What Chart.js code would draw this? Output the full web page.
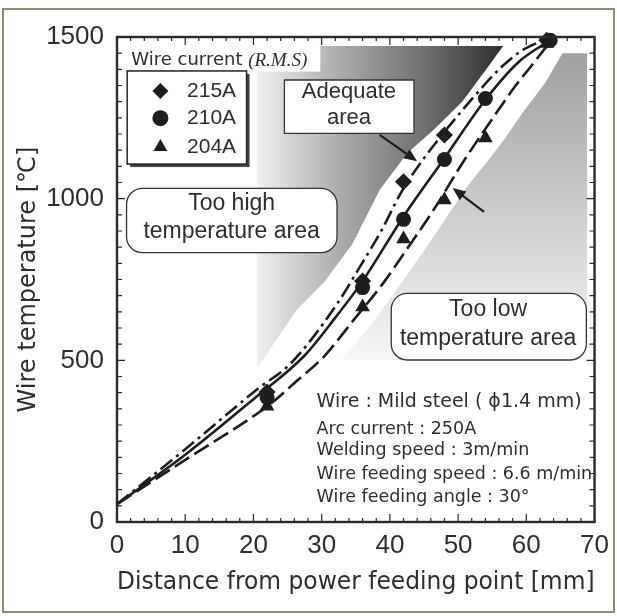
<!DOCTYPE html>
<html>
<head>
<meta charset="utf-8">
<script src="https://cdn.jsdelivr.net/npm/chart.js@4.4.1/dist/chart.umd.min.js"></script>
<style>
  html, body { margin: 0; padding: 0; background: #fff; }
  canvas { display: block; }
</style>
</head>
<body>
<canvas id="chart" width="617" height="616"></canvas>
<script>
// axis ticks
const xTickValues = [0, 10, 20, 30, 40, 50, 60, 70];
const yTickValues = [0, 500, 1000, 1500];
const currentLabels = ['215A', '210A', '204A'];

// measured wire temperatures [distance mm, temperature C]
const points215A = [[22, 402], [36, 745], [42, 1052], [48, 1197], [63, 1490]];
const points210A = [[22, 385], [36, 725], [42, 936], [48, 1121], [54, 1310], [63.5, 1490]];
const points204A = [[22, 358], [36, 665], [42, 875], [48, 996], [54, 1188], [63, 1480]];

// fitted curves
const curve215A = [[0, 55], [10, 225], [20.7, 413], [25.5, 491], [32.3, 676], [35.6, 789], [38.8, 903],
                   [41.7, 1021], [44.8, 1119], [52.1, 1310], [56.4, 1408], [59.5, 1460], [62.5, 1490]];
const curve210A = [[0, 55], [10, 208], [20, 380], [27.5, 515], [32, 632], [36, 745], [42, 945],
                   [48, 1125], [54, 1306], [59, 1425], [63.5, 1490]];
const curve204A = [[0, 55], [10, 192], [22.6, 367], [26.5, 439], [30.3, 511], [34.7, 625], [39, 738],
                   [42.4, 841], [46.7, 975], [50.6, 1109], [55.9, 1274], [58.3, 1346], [61.2, 1423], [63.5, 1485]];

// shaded zones (outline in data units)
const tooHighZone = [[20.5, 1472], [56.6, 1472], [54.4, 1408], [50.6, 1300], [46.5, 1215], [42.5, 1140],
                     [38.5, 1027], [34.5, 860], [30.5, 745], [26.3, 655], [20.5, 475]];
const tooLowZone = [[65.3, 1450], [68.9, 1450], [68.9, 500], [32.9, 500], [36.5, 590], [40, 690],
                    [45.7, 860], [51.4, 1040], [54.5, 1120], [57, 1190], [59.4, 1264], [62.7, 1356]];

const infoLines = ['Wire : Mild steel ( \u03d51.4 mm)', 'Arc current : 250A', 'Welding speed : 3m/min',
                   'Wire feeding speed : 6.6 m/min', 'Wire feeding angle : 30\u00b0'];

const INK = '#1e1e1e';
const TXT = '#2e2e2e';
const SANS = '"Liberation Sans", Arial, sans-serif';
const NARROW = '"Liberation Sans Narrow", "Arial Narrow", "Liberation Sans", sans-serif';
const WIDE = '"DejaVu Sans", sans-serif';

const toXY = arr => arr.map(([x, y]) => ({x, y}));

function curveSet(label, pts, dash) {
    return {
        label: label, data: toXY(pts), order: 2,
        borderColor: INK, borderWidth: 2.6, borderDash: dash,
        pointRadius: 0, cubicInterpolationMode: 'monotone', fill: false
    };
}
function markerSet(label, pts, style, r) {
    return {
        label: label, data: toXY(pts), order: 1, showLine: false, clip: false,
        pointStyle: style, pointRadius: r, pointBackgroundColor: INK, pointBorderColor: INK, pointBorderWidth: 0
    };
}

function px(chart, x) { return chart.scales.x.getPixelForValue(x); }
function py(chart, y) { return chart.scales.y.getPixelForValue(y); }

function tracePoly(chart, ctx, pts) {
    ctx.beginPath();
    pts.forEach(([x, y], i) => {
        if (i === 0) ctx.moveTo(px(chart, x), py(chart, y));
        else ctx.lineTo(px(chart, x), py(chart, y));
    });
    ctx.closePath();
}

function roundRect(ctx, x0, y0, x1, y1, r) {
    ctx.beginPath();
    ctx.moveTo(x0 + r, y0);
    ctx.arcTo(x1, y0, x1, y1, r);
    ctx.arcTo(x1, y1, x0, y1, r);
    ctx.arcTo(x0, y1, x0, y0, r);
    ctx.arcTo(x0, y0, x1, y0, r);
    ctx.closePath();
}

function box(chart, ctx, b, radius) {
    const x0 = px(chart, b[0]), x1 = px(chart, b[1]);
    const y0 = py(chart, b[2]), y1 = py(chart, b[3]);
    ctx.fillStyle = '#fff';
    ctx.strokeStyle = '#333';
    ctx.lineWidth = 1.3;
    if (radius) roundRect(ctx, x0, y0, x1, y1, radius);
    else { ctx.beginPath(); ctx.rect(x0, y0, x1 - x0, y1 - y0); }
    ctx.fill();
    ctx.stroke();
}

function arrow(chart, ctx, from, to) {
    const x0 = px(chart, from[0]), y0 = py(chart, from[1]);
    const x1 = px(chart, to[0]), y1 = py(chart, to[1]);
    const a = Math.atan2(y1 - y0, x1 - x0);
    const L = 13, W = 5.5;
    ctx.strokeStyle = INK;
    ctx.fillStyle = INK;
    ctx.lineWidth = 2.2;
    ctx.beginPath();
    ctx.moveTo(x0, y0);
    ctx.lineTo(x1 - Math.cos(a) * L * 0.8, y1 - Math.sin(a) * L * 0.8);
    ctx.stroke();
    ctx.beginPath();
    ctx.moveTo(x1, y1);
    ctx.lineTo(x1 - Math.cos(a) * L - Math.sin(a) * W, y1 - Math.sin(a) * L + Math.cos(a) * W);
    ctx.lineTo(x1 - Math.cos(a) * L + Math.sin(a) * W, y1 - Math.sin(a) * L - Math.cos(a) * W);
    ctx.closePath();
    ctx.fill();
}

const pagePlugin = {
    id: 'page',
    beforeDraw(chart) {
        const ctx = chart.ctx;
        ctx.save();
        ctx.fillStyle = '#fff';
        ctx.fillRect(0, 0, chart.width, chart.height);
        ctx.strokeStyle = '#8f8f6c';
        ctx.lineWidth = 2;
        ctx.strokeRect(3, 9, 611, 603);
        ctx.restore();
    }
};

const zonePlugin = {
    id: 'zones',
    beforeDatasetsDraw(chart) {
        const ctx = chart.ctx;
        ctx.save();
        const g1 = ctx.createLinearGradient(px(chart, 20.5), 0, px(chart, 56.6), 0);
        g1.addColorStop(0, '#f0f0f0');
        g1.addColorStop(0.35, '#a9a9a9');
        g1.addColorStop(0.7, '#6c6c6c');
        g1.addColorStop(1, '#2e2e2e');
        tracePoly(chart, ctx, tooHighZone);
        ctx.fillStyle = g1;
        ctx.fill();

        const g2 = ctx.createLinearGradient(0, py(chart, 1450), 0, py(chart, 500));
        g2.addColorStop(0, '#a0a0a0');
        g2.addColorStop(1, '#f7f7f7');
        tracePoly(chart, ctx, tooLowZone);
        ctx.fillStyle = g2;
        ctx.fill();

        // white backing behind the legend caption
        ctx.fillStyle = '#fff';
        ctx.fillRect(px(chart, 0) + 2, py(chart, 1472), px(chart, 29.8) - px(chart, 0) - 2, py(chart, 1393) - py(chart, 1472));
        ctx.restore();
    }
};

const notesPlugin = {
    id: 'notes',
    afterDatasetsDraw(chart) {
        const ctx = chart.ctx;
        ctx.save();
        ctx.textBaseline = 'middle';

        // legend
        const lx0 = px(chart, 1.49), lx1 = px(chart, 18.99), ly0 = py(chart, 1395), ly1 = py(chart, 1107);
        ctx.fillStyle = '#444';
        ctx.fillRect(lx0 + 3, ly0 + 3, lx1 - lx0, ly1 - ly0);
        ctx.fillStyle = '#fff';
        ctx.fillRect(lx0, ly0, lx1 - lx0, ly1 - ly0);
        ctx.strokeStyle = '#222';
        ctx.lineWidth = 1.5;
        ctx.strokeRect(lx0, ly0, lx1 - lx0, ly1 - ly0);

        ctx.fillStyle = TXT;
        ctx.textAlign = 'left';
        ctx.font = '18px ' + WIDE;
        ctx.fillText('Wire current', px(chart, 2.1), py(chart, 1427));
        const w = ctx.measureText('Wire current ').width;
        ctx.font = 'italic 19px "Liberation Serif", serif';
        ctx.fillText('(R.M.S)', px(chart, 2.1) + w, py(chart, 1427));

        const styles = ['rectRot', 'circle', 'triangle'];
        const radii = [8, 8, 8];
        const rowsY = [1333, 1249, 1160];
        ctx.font = '21px ' + SANS;
        currentLabels.forEach((lab, i) => {
            ctx.fillStyle = INK;
            ctx.strokeStyle = INK;
            Chart.helpers.drawPoint(ctx, {pointStyle: styles[i], radius: radii[i], borderWidth: 0},
                px(chart, 6.36), py(chart, rowsY[i]));
            ctx.fillStyle = TXT;
            ctx.fillText(lab, px(chart, 10.27), py(chart, rowsY[i]));
        });

        // callouts
        ctx.textAlign = 'center';
        box(chart, ctx, [24.54, 43.53, 1367, 1202], 0);
        ctx.fillStyle = TXT;
        ctx.font = '22px ' + SANS;
        ctx.fillText('Adequate', px(chart, 34.0), py(chart, 1329));
        ctx.fillText('area', px(chart, 34.0), py(chart, 1250));
        arrow(chart, ctx, [38.5, 1197], [44.0, 1116]);
        arrow(chart, ctx, [53.8, 959], [49.2, 1033]);

        box(chart, ctx, [1.40, 32.25, 1032, 833], 16);
        ctx.fillStyle = TXT;
        ctx.font = '23px ' + SANS;
        ctx.fillText('Too high', px(chart, 16.8), py(chart, 985));
        ctx.fillText('temperature area', px(chart, 16.8), py(chart, 898));

        box(chart, ctx, [40.2, 68.8, 707, 501], 16);
        ctx.fillStyle = TXT;
        ctx.fillText('Too low', px(chart, 54.4), py(chart, 658));
        ctx.fillText('temperature area', px(chart, 54.4), py(chart, 568));

        // conditions
        ctx.textAlign = 'left';
        const infoY = [372, 287, 220, 148, 76];
        infoLines.forEach((t, i) => {
            ctx.font = (i === 0 ? '19px ' : '17.5px ') + WIDE;
            ctx.fillText(t, px(chart, 29.26), py(chart, infoY[i]));
        });
        ctx.restore();
    },
    afterDraw(chart) {
        const ctx = chart.ctx;
        const a = chart.chartArea;
        ctx.save();
        ctx.strokeStyle = '#2a2a2a';
        ctx.lineWidth = 1.2;
        ctx.beginPath();
        for (let v = 0; v <= 70; v += 2) {
            const x = px(chart, v);
            const len = v % 10 === 0 ? 8 : 4;
            ctx.moveTo(x, a.bottom); ctx.lineTo(x, a.bottom - len);
            ctx.moveTo(x, a.top); ctx.lineTo(x, a.top + len);
        }
        for (let v = 0; v <= 1500; v += 50) {
            const y = py(chart, v);
            const len = v % 500 === 0 ? 8 : 5;
            ctx.moveTo(a.left, y); ctx.lineTo(a.left + len, y);
            ctx.moveTo(a.right, y); ctx.lineTo(a.right - len, y);
        }
        ctx.stroke();
        ctx.lineWidth = 2.4;
        ctx.strokeRect(a.left, a.top, a.right - a.left, a.bottom - a.top);
        ctx.restore();
    }
};

const tickFont = {family: NARROW, size: 26};

new Chart(document.getElementById('chart'), {
    type: 'line',
    data: {
        datasets: [
            markerSet(currentLabels[0], points215A, 'rectRot', 8.5),
            markerSet(currentLabels[1], points210A, 'circle', 7.5),
            markerSet(currentLabels[2], points204A, 'triangle', 8.5),
            curveSet(currentLabels[0] + ' fit', curve215A, [15, 5, 3, 5]),
            curveSet(currentLabels[1] + ' fit', curve210A, []),
            curveSet(currentLabels[2] + ' fit', curve204A, [17, 6])
        ]
    },
    options: {
        responsive: false,
        animation: false,
        events: [],
        layout: {padding: {left: 0, right: 16, top: 37, bottom: 0}},
        plugins: {legend: {display: false}, tooltip: {enabled: false}},
        scales: {
            x: {
                type: 'linear', min: 0, max: 70,
                afterBuildTicks: s => { s.ticks = xTickValues.map(v => ({value: v})); },
                afterFit: s => { s.height = 94; },
                grid: {display: false, drawTicks: false},
                border: {display: false},
                ticks: {font: tickFont, color: TXT, padding: 8, maxRotation: 0, callback: v => String(v)},
                title: {display: true, text: 'Distance from power feeding point [mm]',
                        font: {family: WIDE, size: 24}, color: TXT, padding: {top: 0, bottom: 19}}
            },
            y: {
                type: 'linear', min: 0, max: 1500,
                afterBuildTicks: s => { s.ticks = yTickValues.map(v => ({value: v})); },
                afterFit: s => { s.width = 117; },
                grid: {display: false, drawTicks: false},
                border: {display: false},
                ticks: {font: tickFont, color: TXT, padding: 13, callback: v => String(v)},
                title: {display: true, text: 'Wire temperature [\u2103]',
                        font: {family: WIDE, size: 24}, color: TXT, padding: {top: 14, bottom: 0}}
            }
        }
    },
    plugins: [pagePlugin, zonePlugin, notesPlugin]
});
</script>
</body>
</html>
